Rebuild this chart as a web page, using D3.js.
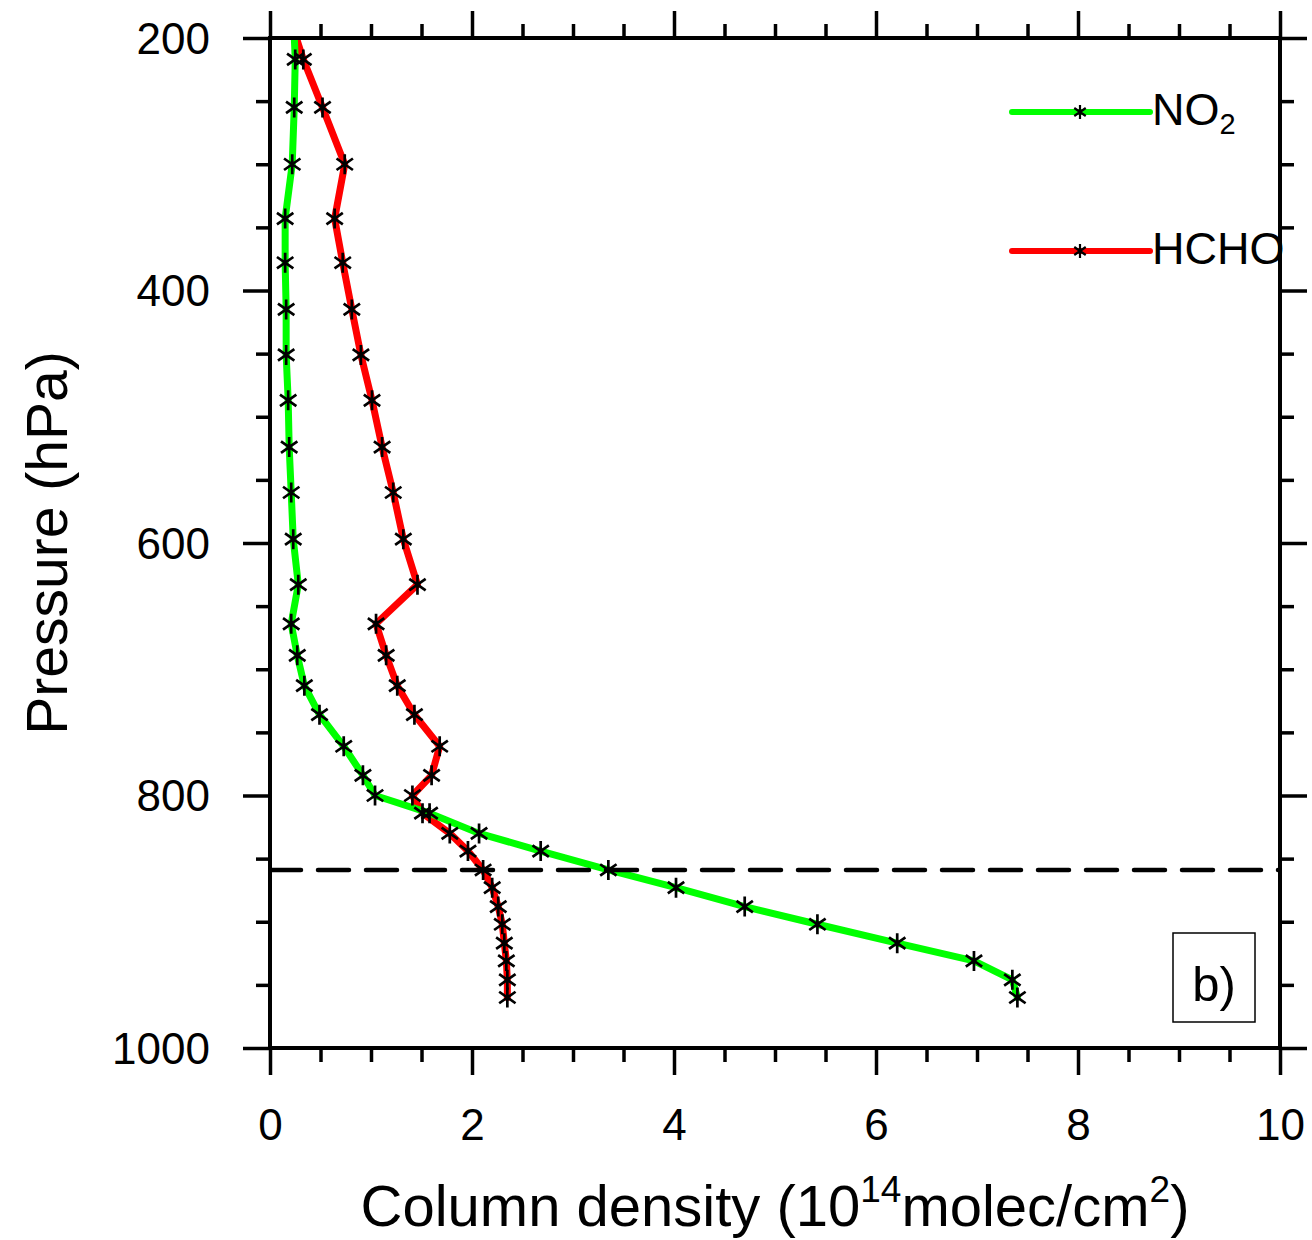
<!DOCTYPE html>
<html>
<head>
<meta charset="utf-8">
<script src="https://cdn.jsdelivr.net/npm/d3@7"></script>
<style>
  body { margin: 0; background: #fff; }
  svg { display: block; }
  text { font-family: "Liberation Sans", Arial, Helvetica, sans-serif; fill: #000; }
</style>
</head>
<body>
<svg id="chart" width="1312" height="1240"></svg>
<script>
// ---- data ----
const pressureLevels = [180, 217, 255, 300, 343, 378, 415, 451, 487, 524, 560, 597, 633, 664, 689, 713, 736, 761, 784, 800, 814, 830, 844, 859, 873, 888, 902, 917, 931, 946, 960];
const no2Values  = [0.23, 0.25, 0.24, 0.22, 0.15, 0.15, 0.16, 0.16, 0.18, 0.19, 0.21, 0.23, 0.28, 0.21, 0.27, 0.34, 0.49, 0.73, 0.92, 1.04, 1.58, 2.07, 2.68, 3.35, 4.02, 4.70, 5.42, 6.21, 6.97, 7.35, 7.40];
const hchoValues = [0.18, 0.33, 0.52, 0.74, 0.64, 0.72, 0.81, 0.90, 1.01, 1.11, 1.22, 1.32, 1.46, 1.05, 1.15, 1.26, 1.43, 1.68, 1.60, 1.41, 1.51, 1.78, 1.96, 2.11, 2.20, 2.26, 2.30, 2.32, 2.34, 2.35, 2.35];
const seriesNames = ["NO2", "HCHO"];
const seriesColors = ["#00ff00", "#ff0000"];
const xMajorTicks = [0, 2, 4, 6, 8, 10];
const xMinorTicks = [0.5, 1, 1.5, 2.5, 3, 3.5, 4.5, 5, 5.5, 6.5, 7, 7.5, 8.5, 9, 9.5];
const yMajorTicks = [200, 400, 600, 800, 1000];
const yMinorTicks = [250, 300, 350, 450, 500, 550, 650, 700, 750, 850, 900, 950];
const boundaryLayer = 859;
const panelLabel = "b)";

// ---- layout ----
const svg = d3.select("#chart");
const L = 270, R = 1280, T = 38, B = 1048;
const x = d3.scaleLinear().domain([0, 10]).range([L, R]);
const y = d3.scaleLinear().domain([200, 1000]).range([T, B]);

svg.append("defs").append("clipPath").attr("id", "plotclip")
  .append("rect").attr("x", L).attr("y", T).attr("width", R - L).attr("height", B - T);

// ---- axes ----
function styleAxis(g, fs) {
  g.select(".domain").remove();
  g.selectAll(".tick line").attr("stroke", "#000").attr("stroke-width", 3.5);
  g.selectAll(".tick text").style("font-size", fs + "px").style("font-family", '"Liberation Sans", Arial, sans-serif');
}
const fmt = d3.format("d");
svg.append("g").attr("transform", `translate(0,${B})`)
  .call(d3.axisBottom(x).tickValues(xMajorTicks).tickSize(27).tickPadding(34).tickSizeOuter(0).tickFormat(fmt))
  .call(g => styleAxis(g, 44));
svg.append("g").attr("transform", `translate(0,${B})`)
  .call(d3.axisBottom(x).tickValues(xMinorTicks).tickSize(14).tickSizeOuter(0).tickFormat(""))
  .call(g => styleAxis(g, 44));
svg.append("g").attr("transform", `translate(0,${T})`)
  .call(d3.axisTop(x).tickValues(xMajorTicks).tickSize(27).tickSizeOuter(0).tickFormat(""))
  .call(g => styleAxis(g, 44));
svg.append("g").attr("transform", `translate(0,${T})`)
  .call(d3.axisTop(x).tickValues(xMinorTicks).tickSize(14).tickSizeOuter(0).tickFormat(""))
  .call(g => styleAxis(g, 44));
svg.append("g").attr("transform", `translate(${L},0)`)
  .call(d3.axisLeft(y).tickValues(yMajorTicks).tickSize(27).tickPadding(33).tickSizeOuter(0).tickFormat(fmt))
  .call(g => styleAxis(g, 44))
  .call(g => g.selectAll(".tick text").attr("dy", "0.35em"));
svg.append("g").attr("transform", `translate(${L},0)`)
  .call(d3.axisLeft(y).tickValues(yMinorTicks).tickSize(14).tickSizeOuter(0).tickFormat(""))
  .call(g => styleAxis(g, 44));
svg.append("g").attr("transform", `translate(${R},0)`)
  .call(d3.axisRight(y).tickValues(yMajorTicks).tickSize(27).tickSizeOuter(0).tickFormat(""))
  .call(g => styleAxis(g, 44));
svg.append("g").attr("transform", `translate(${R},0)`)
  .call(d3.axisRight(y).tickValues(yMinorTicks).tickSize(14).tickSizeOuter(0).tickFormat(""))
  .call(g => styleAxis(g, 44));

// ---- series ----
const rows = pressureLevels.map((p, i) => ({ p, no2: no2Values[i], hcho: hchoValues[i] }));
const plot = svg.append("g").attr("clip-path", "url(#plotclip)");
const keys = ["no2", "hcho"];
const drawOrder = [1, 0];
drawOrder.forEach(si => {
  const k = keys[si];
  plot.append("path").datum(rows)
    .attr("fill", "none").attr("stroke", seriesColors[si]).attr("stroke-width", 7)
    .attr("stroke-linejoin", "round").attr("stroke-linecap", "round")
    .attr("d", d3.line().x(d => x(d[k])).y(d => y(d.p)));
});

// boundary-layer dashed line
plot.append("line")
  .attr("x1", x(0)).attr("x2", x(10)).attr("y1", y(boundaryLayer)).attr("y2", y(boundaryLayer))
  .attr("stroke", "#000").attr("stroke-width", 4.5)
  .attr("stroke-dasharray", "31,17").attr("stroke-linecap", "round");

// asterisk markers
function starPath(r) {
  let d = "";
  [90, 35, 145].forEach(a => {
    const rad = a * Math.PI / 180;
    const dx = r * Math.cos(rad), dy = r * Math.sin(rad);
    d += `M${-dx},${-dy}L${dx},${dy}`;
  });
  return d;
}
drawOrder.forEach(si => {
  const k = keys[si];
  plot.selectAll(null).data(rows.filter(d => d.p >= 200)).enter().append("path")
    .attr("transform", d => `translate(${x(d[k])},${y(d.p)})`)
    .attr("d", starPath(10)).attr("stroke", "#000").attr("stroke-width", 2.7).attr("fill", "none");
});

// ---- frame ----
svg.append("rect").attr("x", L).attr("y", T).attr("width", R - L).attr("height", B - T)
  .attr("fill", "none").attr("stroke", "#000").attr("stroke-width", 4);

// ---- legend ----
const legY = [112, 251];
seriesNames.forEach((name, i) => {
  const g = svg.append("g");
  g.append("line").attr("x1", 1012).attr("x2", 1150).attr("y1", legY[i]).attr("y2", legY[i])
    .attr("stroke", seriesColors[i]).attr("stroke-width", 6).attr("stroke-linecap", "round");
  g.append("path").attr("transform", `translate(1080,${legY[i]})`).attr("d", starPath(7))
    .attr("stroke", "#000").attr("stroke-width", 2.2).attr("fill", "none");
  const t = g.append("text").attr("x", 1152).attr("y", legY[i] + 13).style("font-size", "45px");
  if (name === "NO2") {
    t.append("tspan").text("NO");
    t.append("tspan").attr("dy", 9).style("font-size", "29px").text("2");
  } else {
    t.text(name);
  }
});

// ---- panel label ----
svg.append("rect").attr("x", 1173).attr("y", 933).attr("width", 82).attr("height", 89)
  .attr("fill", "#fff").attr("stroke", "#000").attr("stroke-width", 1.5);
svg.append("text").attr("x", 1214).attr("y", 1001).attr("text-anchor", "middle")
  .style("font-size", "49px").text(panelLabel);

// ---- axis titles ----
svg.append("text").attr("transform", "translate(67,543) rotate(-90)")
  .attr("text-anchor", "middle").style("font-size", "57px").text("Pressure (hPa)");
const xt = svg.append("text").attr("x", 775).attr("y", 1226).attr("text-anchor", "middle").style("font-size", "58px");
xt.append("tspan").text("Column density (10");
xt.append("tspan").attr("dy", -24).style("font-size", "37px").text("14");
xt.append("tspan").attr("dy", 24).text("molec/cm");
xt.append("tspan").attr("dy", -24).style("font-size", "37px").text("2");
xt.append("tspan").attr("dy", 24).text(")");
</script>
</body>
</html>
